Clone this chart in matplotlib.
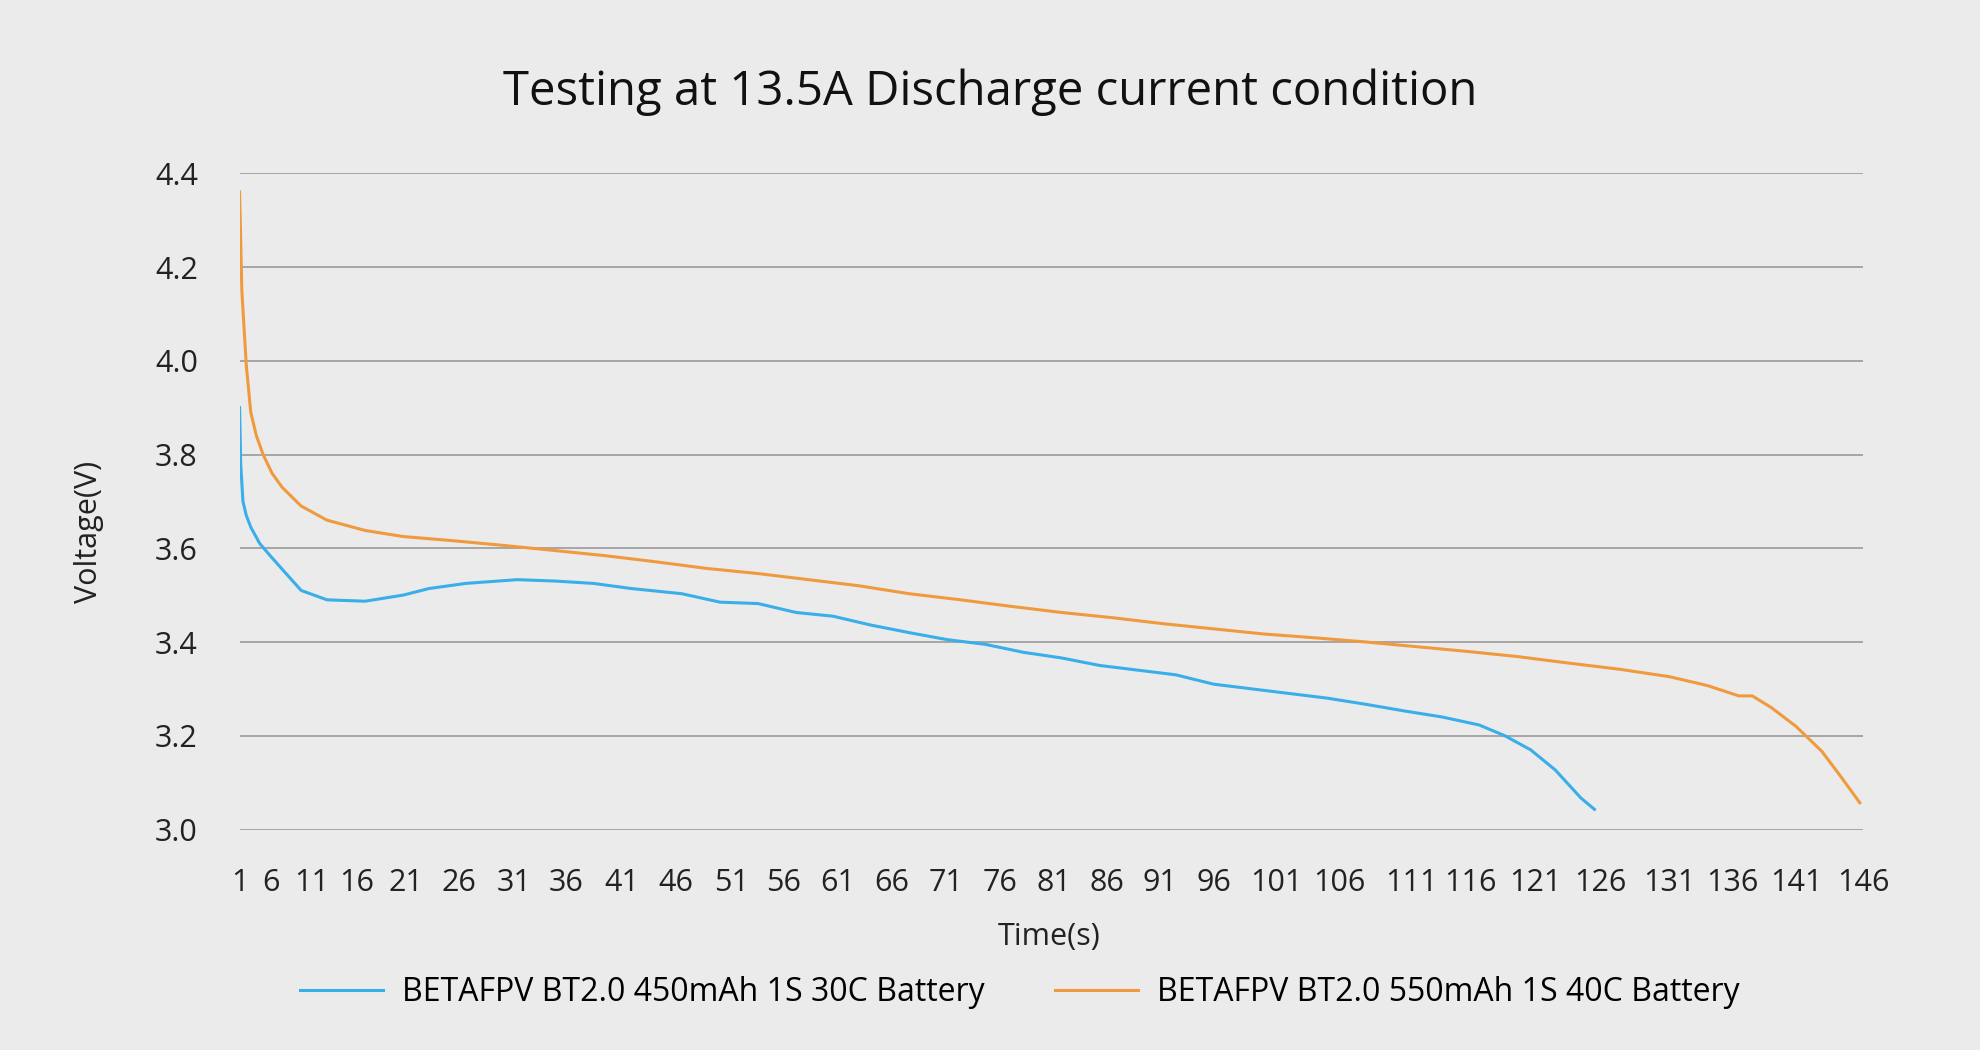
import matplotlib
matplotlib.use("Agg")
import matplotlib.pyplot as plt

t_450 = [1.0, 1.1, 1.3, 1.6, 2.0, 2.8, 3.7, 5.0, 6.5, 8.8, 12.2, 15.6, 17.9, 21.2, 25.8, 29.2, 32.6, 36.0, 40.5, 43.9, 47.3,
         50.7, 54.0, 57.4, 60.8, 64.2, 67.6, 71.0, 74.4, 77.8, 81.2, 84.6, 88.0, 91.4, 94.8, 98.2, 101.6,
         105.0, 108.4, 111.7, 114.0, 116.3, 118.5, 120.8, 122.0]
v_450 = [3.90, 3.78, 3.70, 3.67, 3.645, 3.61, 3.585, 3.55, 3.51, 3.49, 3.487, 3.50, 3.514, 3.525, 3.533, 3.530, 3.525, 3.514,
         3.503, 3.485, 3.482, 3.463, 3.455, 3.436, 3.42, 3.405, 3.395, 3.378, 3.366, 3.35, 3.34, 3.33,
         3.31, 3.30, 3.29, 3.28, 3.267, 3.253, 3.24, 3.223, 3.20, 3.17, 3.127, 3.067, 3.043]

t_550 = [1.0, 1.2, 1.6, 2.0, 2.5, 3.1, 3.9, 4.8, 6.5, 8.8, 12.2, 15.6, 20.1, 24.6, 29.2, 33.7, 38.2, 42.7, 47.3, 51.8,
         56.3, 60.8, 65.4, 69.9, 74.4, 78.9, 83.5, 88.0, 92.5, 97.0, 101.6, 106.1, 110.6, 115.1, 119.7,
         124.2, 128.7, 132.1, 134.9, 136.1, 137.8, 140.0, 142.3, 144.0, 145.7]
v_550 = [4.36, 4.15, 3.99, 3.89, 3.84, 3.80, 3.76, 3.73, 3.69, 3.66, 3.638, 3.625, 3.616, 3.606, 3.595, 3.584, 3.571,
         3.557, 3.546, 3.533, 3.52, 3.503, 3.49, 3.476, 3.463, 3.452, 3.439, 3.428, 3.417, 3.409, 3.40,
         3.39, 3.38, 3.369, 3.355, 3.342, 3.326, 3.307, 3.285, 3.285, 3.26, 3.22, 3.167, 3.113, 3.057]

x_tick_labels = [str(v) for v in range(1, 147, 5)]
# where each label sits along the time axis in the reference
x_tick_pos = [1.0, 3.8, 7.4, 11.5, 15.9, 20.6, 25.5, 30.2, 35.1, 40.0, 44.9, 49.6, 54.4, 59.2, 64.1,
              68.9, 73.7, 78.5, 83.2, 88.0, 93.6, 99.2, 105.7, 110.9, 116.7, 122.5, 128.7, 134.3, 140.0, 146.0]
y_ticks = [3.0, 3.2, 3.4, 3.6, 3.8, 4.0, 4.2, 4.4]

plt.rcParams['font.family'] = ['Open Sans', 'DejaVu Sans']
bg = '#ebebeb'
fig = plt.figure(figsize=(19.8, 10.5), dpi=100, facecolor=bg)
ax = fig.add_axes([0.121, 0.210, 0.820, 0.625], facecolor=bg)

ax.plot(t_450, v_450, color='#3aaee8', lw=2.2, label='BETAFPV BT2.0 450mAh 1S 30C Battery')
ax.plot(t_550, v_550, color='#f09a3e', lw=2.2, label='BETAFPV BT2.0 550mAh 1S 40C Battery')

ax.set_xlim(1, 146)
ax.set_ylim(3.0, 4.4)
ax.set_yticks(y_ticks)
ax.set_yticklabels([f'{v:.1f}' for v in y_ticks])
ax.set_xticks(x_tick_pos)
ax.set_xticklabels(x_tick_labels)
ax.grid(axis='y', color='#9a9a9a', lw=1.2)
ax.set_axisbelow(True)
for s in ax.spines.values():
    s.set_visible(False)
ax.tick_params(length=0, labelsize=22, colors='#222222')
ax.tick_params(axis='x', pad=28)
ax.tick_params(axis='y', pad=30)

fig.text(0.5, 0.912, 'Testing at 13.5A Discharge current condition', ha='center', va='center',
         fontsize=34, color='#111111')
fig.text(0.53, 0.108, 'Time(s)', ha='center', va='center', fontsize=22, color='#222222')
fig.text(0.045, 0.493, 'Voltage(V)', ha='center', va='center', rotation=90, fontsize=22, color='#222222')

fig.legend(loc='center', bbox_to_anchor=(0.515, 0.055), ncol=2, frameon=False, fontsize=23,
           handlelength=2.6, columnspacing=2.2, handletextpad=0.6)

fig.savefig('out.png', dpi=100, facecolor=bg)
